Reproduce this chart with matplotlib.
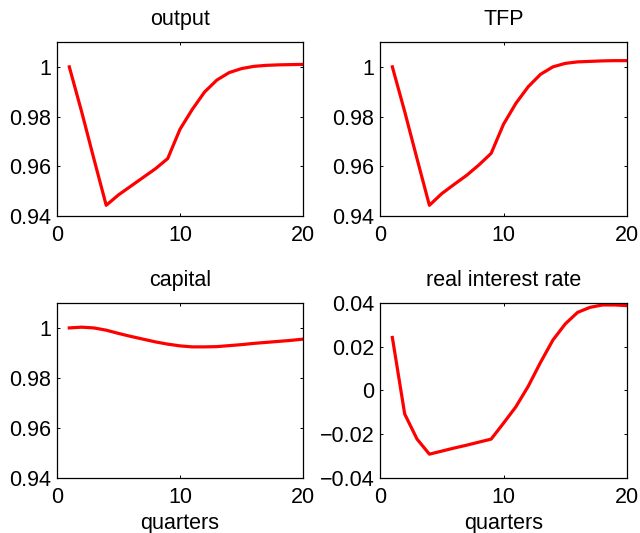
import matplotlib
matplotlib.use("Agg")
import matplotlib.pyplot as plt

plt.rcParams['font.family'] = ['Liberation Sans', 'DejaVu Sans']

quarters = list(range(1, 21))

output = [1.0, 0.982, 0.963, 0.9443, 0.9485, 0.952, 0.9555, 0.959, 0.9631,
          0.9749, 0.9829, 0.9899, 0.9947, 0.9977, 0.9993, 1.0002, 1.0006,
          1.0008, 1.0009, 1.001]
tfp = [1.0, 0.982, 0.963, 0.9443, 0.949, 0.9527, 0.9563, 0.9605, 0.9652,
       0.9769, 0.9853, 0.992, 0.997, 1.0, 1.0014, 1.002, 1.0022, 1.0024,
       1.0025, 1.0025]
capital = [1.0, 1.0003, 1.0, 0.9991, 0.9978, 0.9966, 0.9955, 0.9944, 0.9935,
           0.9928, 0.9924, 0.9924, 0.9925, 0.9929, 0.9933, 0.9938, 0.9942,
           0.9946, 0.995, 0.9955]
real_rate = [0.0242, -0.0109, -0.0224, -0.0293, -0.0279, -0.0265, -0.0252,
             -0.0238, -0.0224, -0.0151, -0.0076, 0.0018, 0.0128, 0.023,
             0.0304, 0.0357, 0.038, 0.0391, 0.0391, 0.0388]

titles = ["output", "TFP", "capital", "real interest rate"]
series = [output, tfp, capital, real_rate]
level_ticks = [0.94, 0.96, 0.98, 1.0]
level_labels = ["0.94", "0.96", "0.98", "1"]
rate_ticks = [-0.04, -0.02, 0.0, 0.02, 0.04]
rate_labels = ["\u22120.04", "\u22120.02", "0", "0.02", "0.04"]
x_ticks = [0, 10, 20]

W, H = 640, 533
FS = 15.5
fig = plt.figure(figsize=(W / 100, H / 100), dpi=100)

# panel boxes in pixels: (left, top, right, bottom)
boxes = [(57, 42, 303, 216), (380, 42, 627, 216),
         (57, 303, 303, 477.5), (380, 303, 627, 477.5)]

for i, (title, y, box) in enumerate(zip(titles, series, boxes)):
    l, t, r, b = box
    ax = fig.add_axes([l / W, 1 - b / H, (r - l) / W, (b - t) / H])
    ax.plot(quarters, y, color="#ff0000", lw=2.3, solid_joinstyle="round")
    ax.set_xlim(0, 20)
    ax.set_xticks(x_ticks)
    if i < 3:
        ax.set_ylim(0.94, 1.01)
        ax.set_yticks(level_ticks)
        ax.set_yticklabels(level_labels)
    else:
        ax.set_ylim(-0.04, 0.04)
        ax.set_yticks(rate_ticks)
        ax.set_yticklabels(rate_labels)
    ax.set_title(title, fontsize=FS, pad=12.5)
    if i >= 2:
        ax.set_xlabel("quarters", fontsize=FS, labelpad=4)
    ax.tick_params(direction="in", length=2.5, width=0.7, labelsize=FS,
                   top=True, right=True, pad=4)
    ax.tick_params(axis="x", pad=6.5)
    for s in ax.spines.values():
        s.set_linewidth(0.9)

fig.savefig("out.png", dpi=100)
